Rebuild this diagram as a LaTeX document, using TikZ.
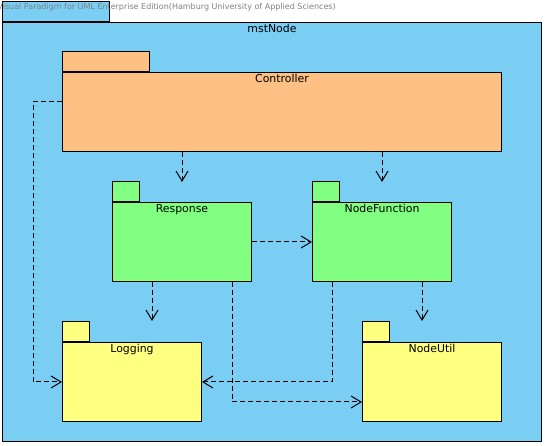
\documentclass[tikz,border=0pt]{standalone}
\usepackage{fontspec}
\setmainfont{DejaVu Sans}
\usetikzlibrary{arrows.meta,calc,positioning}
\definecolor{pkgblue}{RGB}{122,206,244}
\definecolor{pkgorange}{RGB}{255,193,131}
\definecolor{pkggreen}{RGB}{128,255,128}
\definecolor{pkgyellow}{RGB}{255,255,128}
\tikzstyle{pkgbody}=[draw,rectangle,anchor=north west,inner sep=0pt,minimum width=139pt,minimum height=79pt]
\tikzstyle{pkgtab}=[draw,rectangle,anchor=south west,inner sep=0pt,minimum width=27pt,minimum height=20pt]
\tikzstyle{pkgname}=[anchor=north,inner sep=2pt,font=\fontsize{10.9}{13}\selectfont]
\tikzstyle{dep}=[dash pattern=on 5pt off 3pt,-{Straight Barb[length=10pt,width=12pt]}]

\begin{document}
\begin{tikzpicture}[x=1pt,y=1pt,line width=1pt]

  \useasboundingbox (0,0) rectangle (546,446);

  % outer package
  \node[pkgtab,fill=pkgblue,minimum width=107pt] (tmst) at (2,424) {};
  \node[pkgbody,fill=pkgblue,minimum width=539pt,minimum height=419pt] (mst) at (2,424) {};
  \node[pkgname] at (mst.north) {mstNode};
  \node[anchor=base west,inner sep=0pt,text=gray,font=\fontsize{8}{9}\selectfont] (vp) at (-3,436)
    {Visual Paradigm for UML Enterprise Edition(Hamburg University of Applied Sciences)};

  % controller
  \node[pkgtab,fill=pkgorange,minimum width=87pt] (tctrl) at (62,374) {};
  \node[pkgbody,fill=pkgorange,minimum width=439pt] (ctrl) at (62,374) {};
  \node[pkgname] at (ctrl.north) {Controller};

  \foreach \pos/\name/\txt/\col in {{(112,244)/resp/Response/pkggreen}, {(312,244)/nf/NodeFunction/pkggreen},
                                    {(62,104)/log/Logging/pkgyellow}, {(362,104)/util/NodeUtil/pkgyellow}}
  {
    \node[pkgtab,fill=\col] (t\name) at \pos {};
    \node[pkgbody,fill=\col] (\name) at \pos {};
    \node[pkgname] at (\name.north) {\txt};
  }

  % dependencies
  \draw[dep] ($(ctrl.north west)+(0,-30)$) -- ++(-29,0) |- (log.west);
  \draw[dep] (ctrl.south -| resp.north) -- ($(resp.north)+(0,20)$);
  \draw[dep] (ctrl.south -| nf.north) -- ($(nf.north)+(0,20)$);
  \draw[dep] (resp.east) -- (nf.west);

  \coordinate (r1) at ($(resp.south west)+(40,0)$);
  \coordinate (r2) at ($(resp.south west)+(120,0)$);
  \coordinate (n1) at ($(nf.south west)+(20,0)$);
  \coordinate (n2) at ($(nf.south west)+(110,0)$);
  \draw[dep] (r1) -- (r1 |- tlog.north);
  \draw[dep] (r2) |- ($(util.west)+(0,-20)$);
  \draw[dep] (n1) |- (log.east);
  \draw[dep] (n2) -- (n2 |- tutil.north);

\end{tikzpicture}
\end{document}
